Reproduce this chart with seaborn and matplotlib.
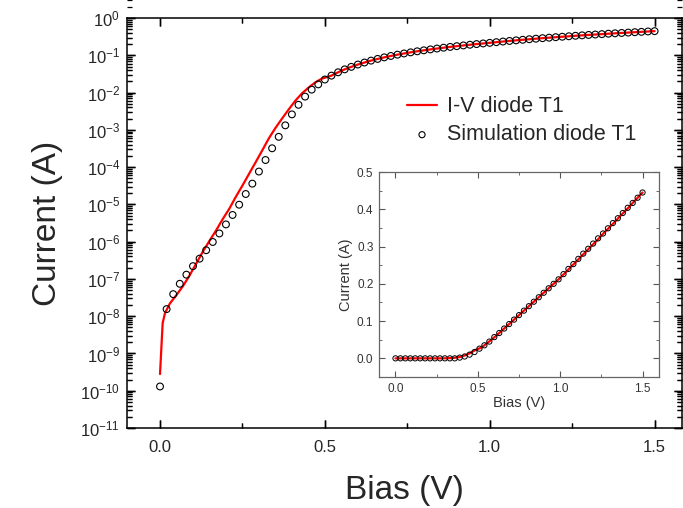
import numpy as np
import pandas as pd
import seaborn as sns
import matplotlib.pyplot as plt
from matplotlib.ticker import FixedLocator, MultipleLocator, NullFormatter

# ---- data ----
# simulation points (main panel), 0.02 V steps
sim_bias = np.round(np.arange(0, 1.5001, 0.02), 2)
sim_current = [
    1.3e-10, 1.55e-8, 3.9e-8, 7.4e-8, 1.3e-7, 2.2e-7, 3.5e-7, 5.9e-7, 9.8e-7, 1.66e-6,
    2.9e-6, 5.2e-6, 9.8e-6, 1.9e-5, 3.6e-5, 7.6e-5, 1.55e-4, 3.2e-4, 6.5e-4, 1.32e-3,
    2.6e-3, 4.7e-3, 7.8e-3, 1.2e-2, 1.66e-2, 0.0224, 0.0285, 0.035, 0.042, 0.049,
    0.0565, 0.064, 0.072, 0.080, 0.088, 0.096, 0.104, 0.112, 0.120, 0.128,
    0.136, 0.144, 0.152, 0.160, 0.168, 0.176, 0.184, 0.192, 0.200, 0.208,
    0.216, 0.225, 0.234, 0.243, 0.252, 0.261, 0.270, 0.279, 0.288, 0.297,
    0.306, 0.315, 0.324, 0.334, 0.343, 0.352, 0.361, 0.370, 0.380, 0.389,
    0.398, 0.407, 0.417, 0.426, 0.436, 0.445,
]

# measured I-V curve below 0.5 V (above that it sits on the simulation)
iv_bias_low = [0.0, 0.008, 0.015, 0.03, 0.05, 0.07, 0.09, 0.11, 0.13, 0.15, 0.17, 0.19,
               0.21, 0.23, 0.25, 0.27, 0.29, 0.31, 0.33, 0.35, 0.37, 0.39, 0.41, 0.43,
               0.45, 0.47, 0.49]
iv_current_low = [2.8e-10, 6.5e-9, 1.2e-8, 2.2e-8, 3.7e-8, 6.5e-8, 1.26e-7, 2.6e-7, 5.4e-7,
                  1.05e-6, 2.0e-6, 4.0e-6, 7.6e-6, 1.6e-5, 3.2e-5, 6.6e-5, 1.35e-4, 2.8e-4,
                  5.9e-4, 1.12e-3, 2.0e-3, 3.5e-3, 6.0e-3, 9.4e-3, 1.35e-2, 1.85e-2, 2.35e-2]

# inset simulation points, 0.03 V steps
inset_bias = np.round(np.arange(0, 1.5001, 0.03), 2)
inset_current = [
    0, 0, 0, 0, 0, 0, 0, 0, 0, 0, 0, 0, 0,
    0.002, 0.005, 0.010, 0.017, 0.026, 0.035, 0.045, 0.057, 0.068, 0.080, 0.092,
    0.104, 0.116, 0.128, 0.140, 0.152, 0.164, 0.176, 0.188, 0.200, 0.212,
    0.226, 0.240, 0.253, 0.267, 0.281, 0.294, 0.308, 0.322, 0.335, 0.349,
    0.363, 0.376, 0.390, 0.404, 0.417, 0.431, 0.445,
]

sim = pd.DataFrame({'bias': sim_bias, 'current': sim_current})
hi = sim[sim['bias'] >= 0.52]
iv = pd.DataFrame({'bias': list(iv_bias_low) + list(hi['bias']),
                   'current': list(iv_current_low) + list(hi['current'])})
ins = pd.DataFrame({'bias': inset_bias, 'current': inset_current})

sns.set_style('ticks')
plt.rcParams['font.family'] = ['Liberation Sans', 'DejaVu Sans']
plt.rcParams['mathtext.fontset'] = 'custom'
plt.rcParams['mathtext.rm'] = 'Liberation Sans'

fig = plt.figure(figsize=(6.83, 5.08), dpi=100)
ax = fig.add_axes([0.186, 0.1575, 0.8125, 0.807])

sns.lineplot(data=iv, x='bias', y='current', color='red', lw=1.6, ax=ax,
             label='I-V diode T1', zorder=2)
sns.scatterplot(data=sim, x='bias', y='current', marker='o', s=24, facecolors='none',
                edgecolor='black', linewidth=0.8, ax=ax, label='Simulation diode T1', zorder=3)

ax.set_yscale('log')
ax.set_ylim(1e-11, 1)
ax.set_xlim(-0.1, 1.583)
decades = range(-11, 1)
ax.yaxis.set_major_locator(FixedLocator([10.0 ** e for e in decades]))
ax.yaxis.set_minor_locator(FixedLocator([m * 10.0 ** e for e in decades for m in range(2, 10)]))
ax.yaxis.set_minor_formatter(NullFormatter())
ax.xaxis.set_major_locator(MultipleLocator(0.5))
ax.xaxis.set_minor_locator(MultipleLocator(0.25))
ax.xaxis.set_major_formatter(plt.FormatStrFormatter('%.1f'))
ax.tick_params(which='both', direction='in', top=True, right=True, color='black')
ax.tick_params(which='major', length=6, width=1, labelsize=12)
ax.tick_params(which='minor', length=3.5, width=0.9)
ax.tick_params(axis='x', pad=9)
ax.tick_params(axis='y', pad=5)
for s in ax.spines.values():
    s.set_linewidth(1.1)
    s.set_color('black')
ax.set_xlabel('Bias (V)', fontsize=24, labelpad=14)
ax.set_ylabel('Current (A)', fontsize=24, labelpad=12)

# tick marks also drawn as short segments at the locator positions (inward, all sides)
bb = ax.get_position()
fw, fh = fig.get_size_inches() * 72
maj_x, min_x = 6 / (bb.height * fh), 3.5 / (bb.height * fh)
maj_y, min_y = 6 / (bb.width * fw), 3.5 / (bb.width * fw)
xt_maj = [v for v in ax.xaxis.get_majorticklocs() if -0.1 <= v <= 1.583]
xt_min = [v for v in ax.xaxis.get_minorticklocs() if -0.1 <= v <= 1.583]
yt_maj = list(ax.yaxis.get_majorticklocs())
yt_min = list(ax.yaxis.get_minorticklocs())
xtr, ytr = ax.get_xaxis_transform(), ax.get_yaxis_transform()
for locs, ln, lw in [(xt_maj, maj_x, 1.0), (xt_min, min_x, 0.9)]:
    ax.vlines(locs, 0, ln, transform=xtr, color='black', lw=lw, clip_on=False, zorder=4)
    ax.vlines(locs, 1 - ln, 1, transform=xtr, color='black', lw=lw, clip_on=False, zorder=4)
for locs, ln, lw in [(yt_maj, maj_y, 1.0), (yt_min, min_y, 0.9)]:
    ax.hlines(locs, 0, ln, transform=ytr, color='black', lw=lw, clip_on=False, zorder=4)
    ax.hlines(locs, 1 - ln, 1, transform=ytr, color='black', lw=lw, clip_on=False, zorder=4)
ax.set_xlim(-0.1, 1.583)
ax.set_ylim(1e-11, 1)

ax.legend(loc='upper left', bbox_to_anchor=(0.485, 0.835), frameon=False, fontsize=15.5,
          handlelength=1.4, handletextpad=0.45, labelspacing=0.32, borderpad=0,
          markerscale=0.9)

# ---- inset ----
axi = fig.add_axes([0.5549, 0.2579, 0.41, 0.4035])
sns.lineplot(data=iv, x='bias', y='current', color='red', lw=1.6, ax=axi, zorder=2)
sns.scatterplot(data=ins, x='bias', y='current', marker='o', s=14, facecolors='none',
                edgecolor='black', linewidth=0.7, ax=axi, zorder=3)
axi.set_xlim(-0.1, 1.6)
axi.set_ylim(-0.05, 0.5)
axi.xaxis.set_major_locator(MultipleLocator(0.5))
axi.xaxis.set_minor_locator(MultipleLocator(0.25))
axi.yaxis.set_major_locator(MultipleLocator(0.1))
axi.yaxis.set_minor_locator(MultipleLocator(0.05))
axi.xaxis.set_major_formatter(plt.FormatStrFormatter('%.1f'))
axi.yaxis.set_major_formatter(plt.FormatStrFormatter('%.1f'))
axi.tick_params(which='both', direction='in', top=True, right=True, color='#555555',
                labelcolor='#333333')
axi.tick_params(which='major', length=4, width=0.8, labelsize=8.5, pad=4)
axi.tick_params(which='minor', length=2, width=0.6)
for s in axi.spines.values():
    s.set_linewidth(0.9)
    s.set_color('#666666')
axi.set_xlabel('Bias (V)', fontsize=10.5, color='#333333', labelpad=1)
axi.set_ylabel('Current (A)', fontsize=10.5, color='#333333', labelpad=3)

fig.savefig('out.png', dpi=100)
